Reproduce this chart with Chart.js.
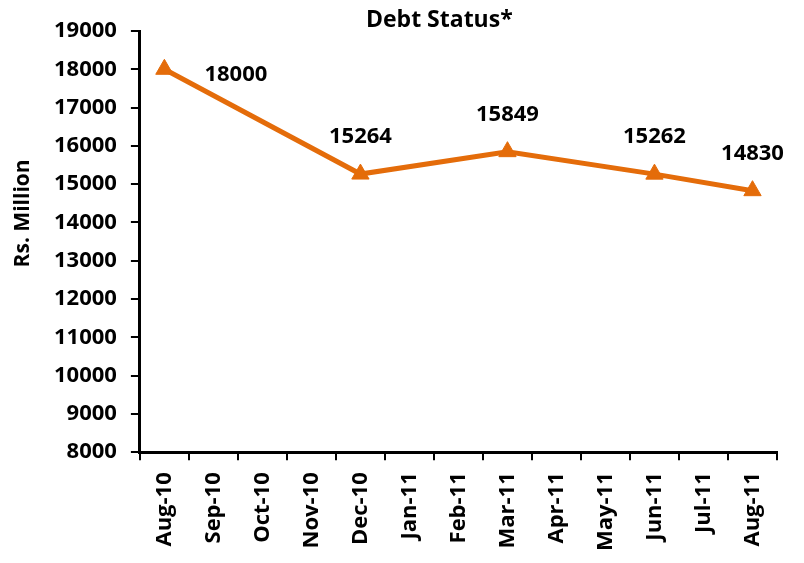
<!DOCTYPE html>
<html lang="en">
<head>
  <meta charset="UTF-8">
  <title>Debt Status*</title>
  <script src="https://cdn.jsdelivr.net/npm/chart.js"></script>
  <style>
    body { margin: 0; background: #ffffff; }
    #wrap { width: 804px; height: 563px; }
  </style>
</head>
<body>
  <div id="wrap"><canvas id="debtChart" width="804" height="563"></canvas></div>
  <script>
    const months = ['Aug-10', 'Sep-10', 'Oct-10', 'Nov-10', 'Dec-10', 'Jan-11', 'Feb-11',
                    'Mar-11', 'Apr-11', 'May-11', 'Jun-11', 'Jul-11', 'Aug-11'];
    const debt = [18000, null, null, null, 15264, null, null, 15849, null, null, 15262, null, 14830];
    const yTicks = [8000, 9000, 10000, 11000, 12000, 13000, 14000, 15000, 16000, 17000, 18000, 19000];
    const chartTitle = 'Debt Status*';
    const yTitle = 'Rs. Million';

    const orange = '#E46C0A';
    const fontFamily = '"Open Sans", sans-serif';

    // value labels: first one sits to the right, the rest above the marker
    const valueLabels = {
      id: 'valueLabels',
      afterDatasetsDraw(chart) {
        const c = chart.ctx;
        const meta = chart.getDatasetMeta(0);
        c.save();
        c.font = 'bold 22px ' + fontFamily;
        c.fillStyle = '#000000';
        c.textBaseline = 'middle';
        meta.data.forEach((pt, i) => {
          const v = debt[i];
          if (v === null) return;
          if (i === 0) {
            c.textAlign = 'left';
            c.fillText(String(v), pt.x + 40, pt.y + 5);
          } else {
            c.textAlign = 'center';
            c.fillText(String(v), pt.x, pt.y - 37);
          }
        });
        c.restore();
      }
    };

    // title and y axis title placed like the original (title sits off-centre)
    const titles = {
      id: 'titles',
      afterDraw(chart) {
        const c = chart.ctx;
        const a = chart.chartArea;
        c.save();
        c.fillStyle = '#000000';
        c.textAlign = 'center';
        c.textBaseline = 'middle';
        c.font = 'bold 23px ' + fontFamily;
        c.fillText(chartTitle, a.left + (a.right - a.left) * 0.47, 20);
        c.font = 'bold 21px ' + fontFamily;
        c.translate(23, a.top + (a.bottom - a.top) * 0.433);
        c.rotate(-Math.PI / 2);
        c.fillText(yTitle, 0, 0);
        c.restore();
      }
    };

    new Chart(document.getElementById('debtChart'), {
      type: 'line',
      data: {
        labels: months,
        datasets: [{
          data: debt,
          borderColor: orange,
          backgroundColor: orange,
          borderWidth: 5,
          spanGaps: true,
          tension: 0,
          pointStyle: 'triangle',
          pointRadius: 10,
          pointBackgroundColor: orange,
          pointBorderColor: orange,
          pointBorderWidth: 1
        }]
      },
      options: {
        responsive: false,
        animation: false,
        layout: { padding: { top: 31, right: 27, left: 40, bottom: 0 } },
        plugins: {
          legend: { display: false },
          tooltip: { enabled: false },
          title: { display: false }
        },
        scales: {
          x: {
            offset: true,
            grid: {
              offset: true,
              drawOnChartArea: false,
              color: '#000000',
              tickLength: 8,
              lineWidth: 2
            },
            border: { color: '#000000', width: 3 },
            ticks: {
              color: '#000000',
              autoSkip: false,
              maxRotation: 90,
              minRotation: 90,
              padding: 12,
              font: { family: fontFamily, size: 22, weight: 'bold' }
            }
          },
          y: {
            min: 8000,
            max: 19000,
            afterBuildTicks(scale) {
              scale.ticks = yTicks.map(v => ({ value: v }));
            },
            grid: {
              drawOnChartArea: false,
              color: '#000000',
              tickLength: 9,
              lineWidth: 2
            },
            border: { color: '#000000', width: 3 },
            ticks: {
              color: '#000000',
              padding: 14,
              font: { family: fontFamily, size: 22, weight: 'bold' },
              callback: v => String(v)
            }
          }
        }
      },
      plugins: [valueLabels, titles]
    });
  </script>
</body>
</html>
